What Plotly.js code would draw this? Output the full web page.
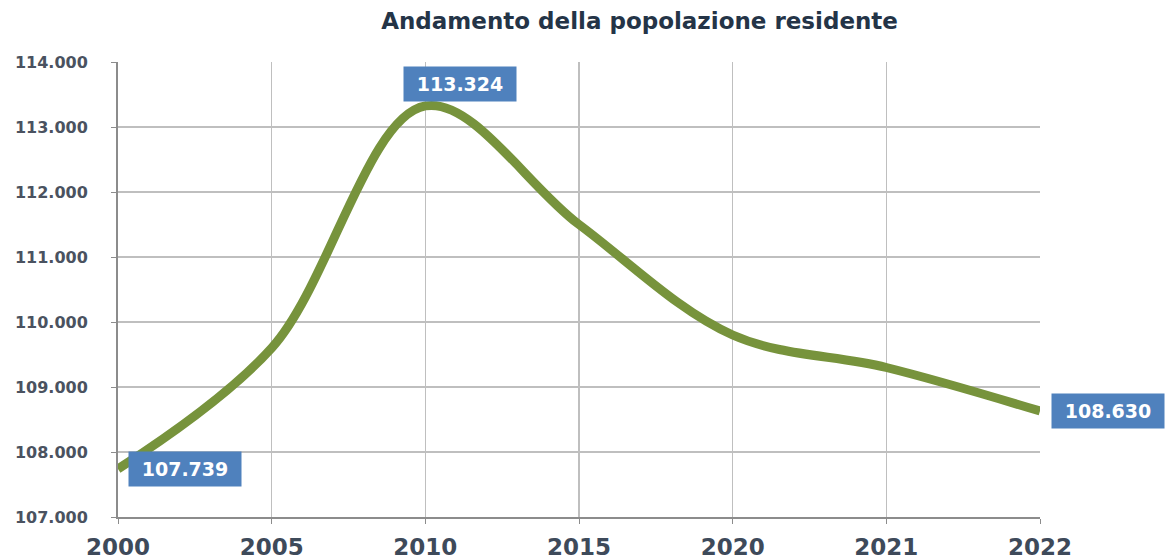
<!DOCTYPE html>
<html>
<head>
<meta charset="utf-8">
<script src="https://cdn.plot.ly/plotly-3.0.1.min.js"></script>
<style>html,body{margin:0;padding:0;background:#fff}#chart{width:1165px;height:560px}</style>
</head>
<body>
<div id="chart"></div>
<script>
const years = ['2000', '2005', '2010', '2015', '2020', '2021', '2022'];
const population = [107739, 109600, 113324, 111500, 109800, 109300, 108630];
const labelledYears = ['2000', '2010', '2022'];
const labelledValues = [107739, 113324, 108630];
const labelShiftX = [67, 35, 68];
const labelShiftY = [0, 22, 0];
const yTicks = [107000, 108000, 109000, 110000, 111000, 112000, 113000, 114000];

function fmt(v) {
  return String(v).replace(/\B(?=(\d{3})+(?!\d))/g, '.');
}

const trace = {
  x: years,
  y: population,
  type: 'scatter',
  mode: 'lines',
  line: {color: '#77933C', width: 9, shape: 'spline', smoothing: 1},
  cliponaxis: false,
  hoverinfo: 'skip'
};

const annotations = labelledYears.map((yr, i) => ({
  x: years.indexOf(yr), y: labelledValues[i], xref: 'x', yref: 'y',
  text: fmt(labelledValues[i]), showarrow: false,
  xshift: labelShiftX[i], yshift: labelShiftY[i],
  width: 102, height: 24, align: 'center', valign: 'middle',
  bgcolor: '#4F81BD', borderpad: 5,
  font: {family: 'DejaVu Sans', size: 19, color: '#FFFFFF', weight: 'bold'}
}));

const layout = {
  width: 1165, height: 560,
  margin: {l: 118, r: 125, t: 62, b: 43},
  paper_bgcolor: '#FFFFFF', plot_bgcolor: '#FFFFFF',
  separators: ',.',
  showlegend: false,
  title: {
    text: 'Andamento della popolazione residente',
    xref: 'container', yref: 'container', x: 0.549, y: 0.962,
    xanchor: 'center', yanchor: 'middle',
    font: {family: 'DejaVu Sans', size: 23, color: '#243447', weight: 'bold'}
  },
  xaxis: {
    type: 'category', range: [0, 6],
    showgrid: true, gridcolor: '#BFBFBF', gridwidth: 1.5,
    showline: true, linecolor: '#8C8C8C', linewidth: 2,
    ticks: 'outside', ticklen: 5, tickcolor: '#8C8C8C',
    ticklabelstandoff: 3,
    tickfont: {family: 'DejaVu Sans', size: 23, color: '#3E4A5A', weight: 'bold'},
    zeroline: false, fixedrange: true
  },
  yaxis: {
    range: [107000, 114000], tickvals: yTicks, ticktext: yTicks.map(fmt),
    showgrid: true, gridcolor: '#BFBFBF', gridwidth: 1.5,
    showline: true, linecolor: '#8C8C8C', linewidth: 2,
    ticks: 'outside', ticklen: 5, tickcolor: '#8C8C8C',
    ticklabelstandoff: 20,
    tickfont: {family: 'DejaVu Sans', size: 16, color: '#4A5260', weight: 'bold'},
    zeroline: false, fixedrange: true
  },
  annotations: annotations
};

Plotly.newPlot('chart', [trace], layout, {displayModeBar: false, staticPlot: true});
</script>
</body>
</html>
